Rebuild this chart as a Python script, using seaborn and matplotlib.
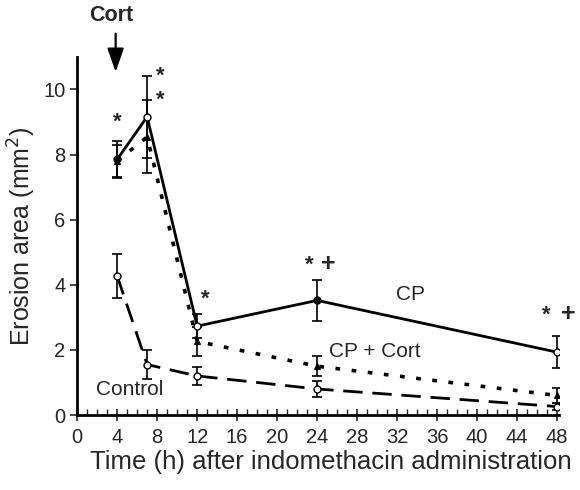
import numpy as np
import pandas as pd
import matplotlib
matplotlib.use("Agg")
import matplotlib.pyplot as plt
import seaborn as sns

# ---- data ----
hours_cp = [4, 7, 12, 24, 48]
cp_mean = [7.85, 9.16, 2.73, 3.52, 1.93]
cp_err = [0.57, 1.26, 0.36, 0.64, 0.5]
cp_filled = [True, False, False, True, False]

hours_cpc = [4, 7, 12, 24, 48]
cpc_mean = [7.8, 8.54, 2.26, 1.5, 0.6]
cpc_err = [0.5, 1.12, 0.44, 0.31, 0.23]

hours_ctl = [4, 7, 12, 24, 48]
ctl_mean = [4.27, 1.55, 1.2, 0.8, 0.26]
ctl_err = [0.68, 0.45, 0.27, 0.24, 0.12]

xticks = list(range(0, 49, 4))
yticks = [0, 2, 4, 6, 8, 10]

sns.set_theme(style="ticks")
plt.rcParams['font.family'] = ['Liberation Sans', 'DejaVu Sans']

fig = plt.figure(figsize=(5.8, 4.9), dpi=100)
ax = fig.add_axes([0.133, 0.153, 0.831, 0.731])

df = pd.concat([
    pd.DataFrame({'h': hours_cp, 'v': cp_mean, 'g': 'CP'}),
    pd.DataFrame({'h': hours_cpc, 'v': cpc_mean, 'g': 'CP + Cort'}),
    pd.DataFrame({'h': hours_ctl, 'v': ctl_mean, 'g': 'Control'}),
])

# error bars
ax.errorbar(hours_cpc, cpc_mean, yerr=cpc_err, fmt='none', ecolor='black', elinewidth=1.2, capsize=3.5, capthick=1.2, zorder=2)
ax.errorbar(hours_ctl, ctl_mean, yerr=ctl_err, fmt='none', ecolor='black', elinewidth=1.2, capsize=3.5, capthick=1.2, zorder=2)
ax.errorbar(hours_cp, cp_mean, yerr=cp_err, fmt='none', ecolor='black', elinewidth=1.2, capsize=3.5, capthick=1.2, zorder=2)

sns.lineplot(data=df[df.g == 'CP + Cort'], x='h', y='v', ax=ax, color='black', lw=2.6,
             linestyle=(0, (1.3, 3.2)), marker='^', markersize=5, markerfacecolor='black',
             markeredgecolor='black', errorbar=None, zorder=3)
sns.lineplot(data=df[df.g == 'Control'], x='h', y='v', ax=ax, color='black', lw=2.0,
             linestyle=(0, (7, 3.5)), marker='o', markersize=5, markerfacecolor='white',
             markeredgecolor='black', markeredgewidth=1.0, errorbar=None, zorder=3)
sns.lineplot(data=df[df.g == 'CP'], x='h', y='v', ax=ax, color='black', lw=2.0,
             marker='o', markersize=5, markerfacecolor='white', markeredgecolor='black',
             markeredgewidth=1.0, errorbar=None, zorder=4)
fx = [h for h, f in zip(hours_cp, cp_filled) if f]
fy = [v for v, f in zip(cp_mean, cp_filled) if f]
ax.scatter(fx, fy, s=14, color='black', zorder=5)

ax.set_xlim(0, 48.2)
ax.set_ylim(0, 11)
ax.set_xticks(xticks)
ax.set_xticks(range(0, 49), minor=True)
ax.set_yticks(yticks)
ax.tick_params(axis='x', which='major', direction='inout', length=8, width=1.2, labelsize=14.5, pad=5)
ax.tick_params(axis='x', which='minor', direction='in', length=4, width=1.0)
ax.tick_params(axis='y', which='major', direction='out', length=5, width=1.2, labelsize=14.5)
sns.despine(ax=ax)
for s in ['left', 'bottom']:
    ax.spines[s].set_linewidth(2.0)
    ax.spines[s].set_color('black')

ax.set_xlabel('Time (h) after indomethacin administration', fontsize=18.5)
ax.xaxis.set_label_coords(0.527, -0.098)
ax.set_ylabel('Erosion area (mm$^2$)', fontsize=18)
ax.yaxis.set_label_coords(-0.082, 0.5)

# annotations
ax.text(4, 9.0, '*', fontsize=16, ha='center', va='center', fontweight='bold')
ax.text(8.3, 10.42, '*', fontsize=16, ha='center', va='center', fontweight='bold')
ax.text(8.3, 9.68, '*', fontsize=16, ha='center', va='center', fontweight='bold')
ax.text(12.8, 3.55, '*', fontsize=16, ha='center', va='center', fontweight='bold')
ax.text(23.2, 4.6, '*', fontsize=16, ha='center', va='center', fontweight='bold')
ax.text(25.1, 4.63, '+', fontsize=18, ha='center', va='center', fontweight='bold')
ax.text(46.9, 3.07, '*', fontsize=16, ha='center', va='center', fontweight='bold')
ax.text(49.1, 3.1, '+', fontsize=18, ha='center', va='center', fontweight='bold', clip_on=False)

ax.text(33.3, 3.7, 'CP', fontsize=15, ha='center', va='center')
ax.text(29.8, 1.95, 'CP + Cort', fontsize=15, ha='center', va='center')
ax.text(1.9, 0.77, 'Control', fontsize=15, ha='left', va='center')

ax.annotate('', xy=(3.85, 10.45), xytext=(3.85, 11.8), annotation_clip=False,
            arrowprops=dict(arrowstyle='-|>,head_length=1.2,head_width=0.42', color='black', lw=1.6))
ax.text(3.4, 12.27, 'Cort', fontsize=15.5, ha='center', va='center', fontweight='bold', clip_on=False)

fig.savefig('out.png', dpi=100)
